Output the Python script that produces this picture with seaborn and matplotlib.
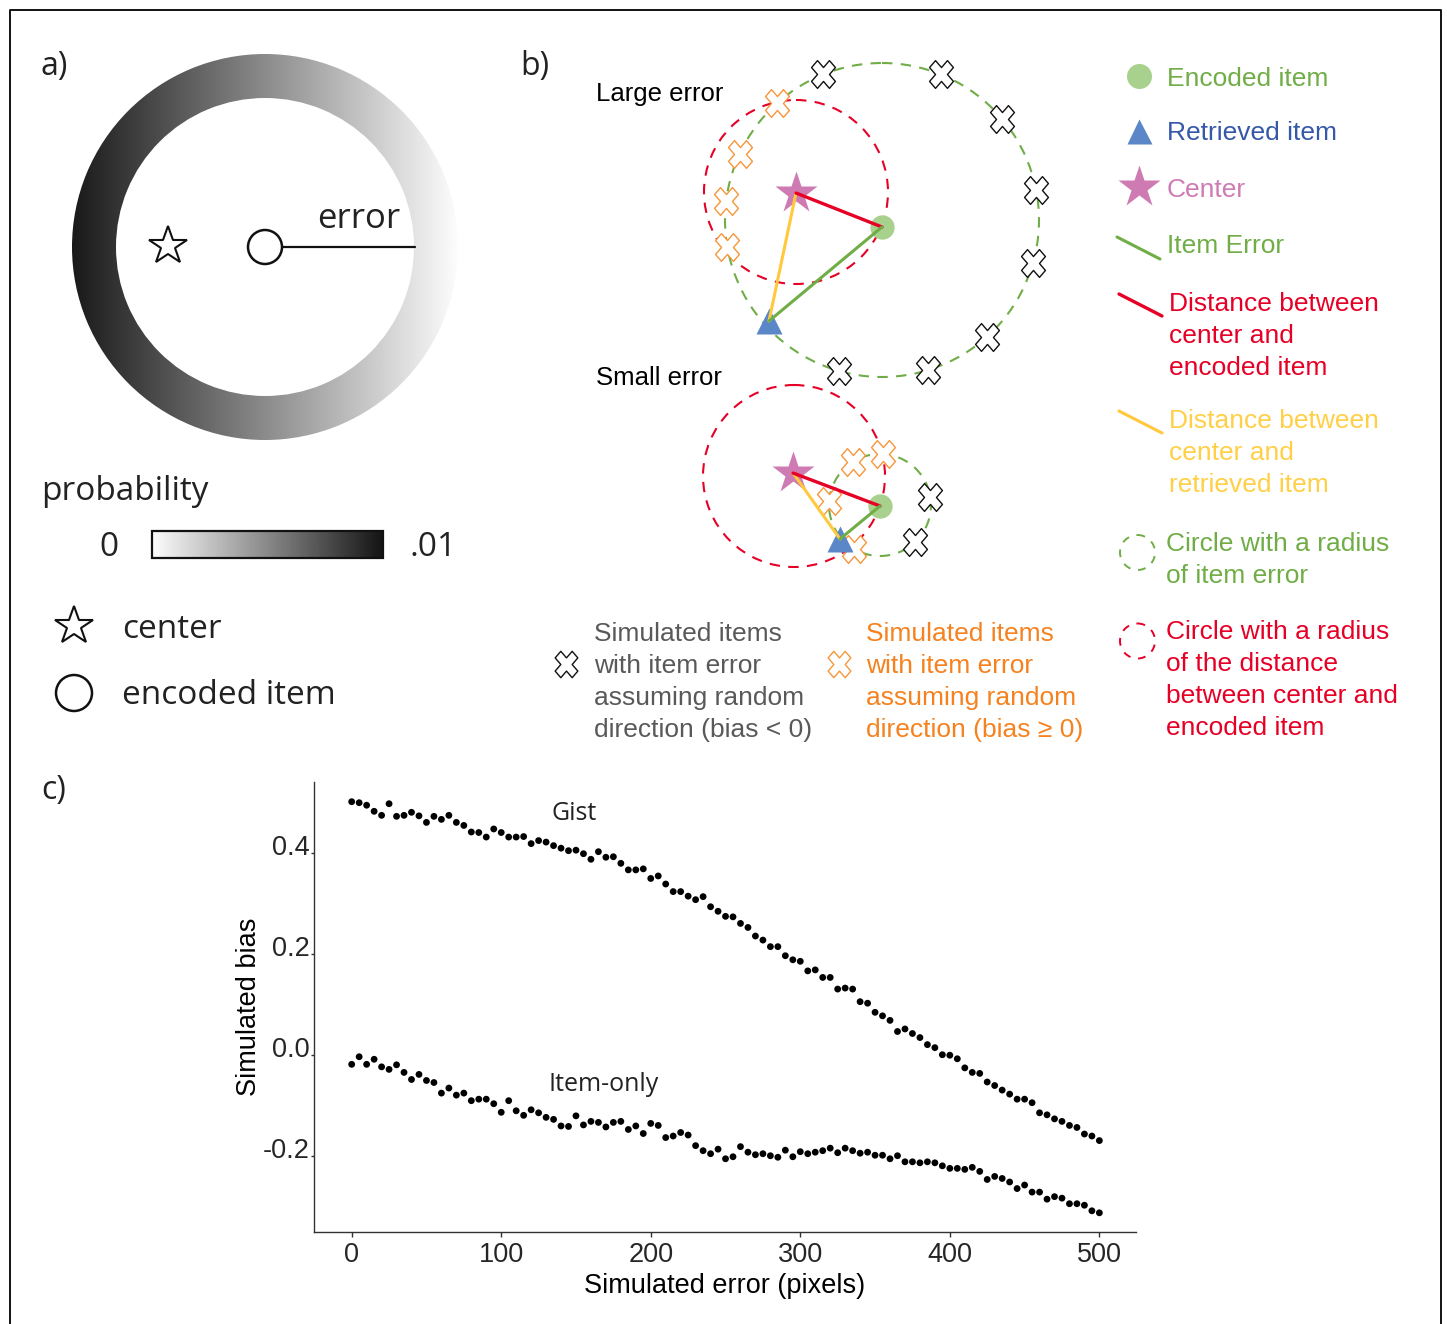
import numpy as np
import pandas as pd
import matplotlib
matplotlib.use('Agg')
import matplotlib.pyplot as plt
import seaborn as sns
from matplotlib.patches import Wedge, Circle, Rectangle
from matplotlib.markers import MarkerStyle
from matplotlib.transforms import Affine2D, ScaledTranslation

# ---- panel c data ----
error_px = list(range(0, 505, 5))
gist_bias = [
    0.502, 0.500, 0.495, 0.483, 0.475, 0.498, 0.473, 0.475, 0.481, 0.474,
    0.461, 0.473, 0.467, 0.475, 0.461, 0.455, 0.442, 0.441, 0.432, 0.448,
    0.441, 0.432, 0.432, 0.433, 0.419, 0.425, 0.422, 0.415, 0.410, 0.405,
    0.406, 0.399, 0.388, 0.403, 0.392, 0.393, 0.380, 0.367, 0.367, 0.369,
    0.350, 0.355, 0.339, 0.324, 0.324, 0.315, 0.308, 0.314, 0.294, 0.285,
    0.275,
    0.274, 0.261, 0.253, 0.236, 0.228, 0.215, 0.215, 0.197, 0.189, 0.186,
    0.167, 0.169, 0.154, 0.154, 0.131, 0.133, 0.131, 0.106, 0.103, 0.085,
    0.078, 0.069, 0.047, 0.052, 0.043, 0.035, 0.021, 0.015, 0.001, 0.000,
    -0.007, -0.025, -0.034, -0.036, -0.053, -0.060, -0.069, -0.077, -0.087, -0.087,
    -0.094, -0.114, -0.118, -0.126, -0.131, -0.139, -0.143, -0.156, -0.160, -0.169]
item_bias = [
    -0.018, -0.003, -0.018, -0.008, -0.023, -0.028, -0.019, -0.034, -0.048, -0.038,
    -0.050, -0.054, -0.075, -0.065, -0.079, -0.075, -0.090, -0.087, -0.087, -0.096,
    -0.113, -0.090, -0.110, -0.119, -0.108, -0.114, -0.123, -0.127, -0.140, -0.141,
    -0.120, -0.138, -0.131, -0.133, -0.142, -0.133, -0.131, -0.147, -0.140, -0.155,
    -0.135, -0.139, -0.163, -0.160, -0.153, -0.158, -0.179, -0.189, -0.195, -0.186,
    -0.205,
    -0.201, -0.181, -0.192, -0.197, -0.195, -0.199, -0.202, -0.188, -0.201, -0.191,
    -0.195, -0.192, -0.189, -0.184, -0.193, -0.184, -0.189, -0.194, -0.192, -0.198,
    -0.198, -0.205, -0.199, -0.211, -0.211, -0.213, -0.211, -0.213, -0.219, -0.224,
    -0.224, -0.226, -0.222, -0.230, -0.246, -0.240, -0.244, -0.251, -0.264, -0.257,
    -0.271, -0.271, -0.285, -0.280, -0.283, -0.294, -0.294, -0.297, -0.308, -0.312]
model_names = ['Gist', 'Item-only']
x_ticks = [0, 100, 200, 300, 400, 500]
y_ticks = [-0.2, 0.0, 0.2, 0.4]
y_ticklabels = ['-0.2', '0.0', '0.2', '0.4']

# ---- schematic (panel b): angles of simulated items on the item-error circle ----
large_black_deg = [112, 68, 40, 11, -16, -48, -73, -106]
large_orange_deg = [132, 155, 173, 190]
small_black_deg = [9, -46]
small_orange_deg = [122, 87, 176, 239]

GREEN = '#70AD47'
GREEN_FILL = '#A9D18E'
BLUE = '#3558A8'
BLUE_FILL = '#5B87C9'
PINK = '#CF7BB3'
RED = '#E60026'
YELLOW = '#FFC83D'
YELLOW_TXT = '#FFCF45'
ORANGE = '#F5821F'
ORANGE_X = '#F7963A'
GRAY_TXT = '#595959'

sns.set_theme(style='white')
plt.rcParams['font.family'] = ['Liberation Sans', 'DejaVu Sans']
MYR = ['Open Sans', 'DejaVu Sans']
TY = 3  # small downward nudge for centred text

fig = plt.figure(figsize=(14.47, 13.24), dpi=100)
ax0 = fig.add_axes([0, 0, 1, 1])
ax0.set_zorder(0)

# outer frame (no bottom edge)
ax0.plot([10, 10, 1441, 1441], [1324, 10, 10, 1324], color='black', lw=1.3)

# ---------------- panel a ----------------
ax0.text(41, 63 + TY, 'a)', family=MYR, fontsize=23, va='center', ha='left', color='#222')
grad = np.linspace(0.1, 0.99, 256).reshape(1, -1)
im = ax0.imshow(grad, cmap='gray', vmin=0, vmax=1, extent=[72, 458, 441, 53],
                aspect='auto', interpolation='bilinear', zorder=1)
ring = Wedge((265, 247), 193, 0, 360, width=44, facecolor='none', edgecolor='none')
ax0.add_patch(ring)
im.set_clip_path(ring)
ax0.plot(168, 246, marker='*', ms=29, mfc='white', mec='#111', mew=1.5, zorder=3)
ax0.plot([282, 415], [247, 247], color='#111', lw=1.6, zorder=3)
ax0.add_patch(Circle((265, 247), 17, fc='white', ec='#111', lw=1.8, zorder=4))
ax0.text(359, 216 + TY, 'error', family=MYR, fontsize=25, ha='center', va='center', color='#222')

ax0.text(41, 488 + TY, 'probability', family=MYR, fontsize=24, ha='left', va='center', color='#222')
cb = ax0.imshow(np.linspace(0.99, 0.08, 256).reshape(1, -1), cmap='gray', vmin=0, vmax=1,
                extent=[152, 383, 558, 531], aspect='auto', zorder=1)
ax0.add_patch(Rectangle((152, 531), 231, 27, fill=False, ec='#111', lw=1.6, zorder=2))
ax0.text(109, 545 + TY, '0', family=MYR, fontsize=24, ha='center', va='center', color='#222')
ax0.text(409, 545 + TY, '.01', family=MYR, fontsize=24, ha='left', va='center', color='#222')
ax0.plot(74, 626, marker='*', ms=29, mfc='white', mec='#111', mew=1.5)
ax0.text(122, 626 + TY, 'center', family=MYR, fontsize=24, ha='left', va='center', color='#222')
ax0.add_patch(Circle((74, 693), 18, fc='white', ec='#111', lw=1.8))
ax0.text(122, 692 + TY, 'encoded item', family=MYR, fontsize=24, ha='left', va='center', color='#222')

# ---------------- panel b ----------------
ax0.text(520, 63 + TY, 'b)', family=MYR, fontsize=23, va='center', ha='left', color='#222')
ax0.text(596, 91 + TY, 'Large error', fontsize=18.5, ha='left', va='center', color='black')
ax0.text(596, 375 + TY, 'Small error', fontsize=18.5, ha='left', va='center', color='black')

base_x = MarkerStyle('X')
x_path = base_x.get_path().transformed(base_x.get_transform() + Affine2D().scale(0.86, 1.0))


def draw_case(star, enc, ret, gcen, grad_r, rcen, red_r, black_deg, orange_deg):
    ax0.add_patch(Circle(rcen, red_r, fill=False, ec=RED, lw=1.5, ls=(0, (5, 4)), zorder=2))
    ax0.add_patch(Circle(gcen, grad_r, fill=False, ec=GREEN, lw=1.5, ls=(0, (5, 4)), zorder=2))
    for degs, col in [(black_deg, '#111'), (orange_deg, ORANGE_X)]:
        a = np.deg2rad(degs)
        ax0.plot(gcen[0] + grad_r * np.cos(a), gcen[1] - grad_r * np.sin(a), ls='none',
                 marker=x_path, ms=20, mfc='white', mec=col, mew=1.0, zorder=3)
    ax0.plot(*star, marker='*', ms=32, color=PINK, mec='none', zorder=4)
    ax0.plot(*enc, marker='o', ms=17.5, color=GREEN_FILL, mec='none', zorder=4)
    ax0.plot(*ret, marker='^', ms=18.5, color=BLUE_FILL, mec='none', zorder=4)
    ax0.plot([star[0], ret[0]], [star[1], ret[1]], color=YELLOW, lw=2.2, zorder=5)
    ax0.plot([star[0], enc[0]], [star[1], enc[1]], color=RED, lw=2.4, zorder=5)
    ax0.plot([enc[0], ret[0]], [enc[1], ret[1]], color=GREEN, lw=2.2, zorder=5)


draw_case((796, 193), (882, 227), (769, 321), (882, 220), 157, (796, 192), 92,
          large_black_deg, large_orange_deg)
draw_case((793, 473), (880, 506), (840, 539), (880, 505), 51, (794, 476), 91,
          small_black_deg, small_orange_deg)


def lines_text(x, y0, lines, color, step=32, size=19):
    for i, s in enumerate(lines):
        ax0.text(x, y0 + TY + i * step, s, fontsize=size, ha='left', va='center', color=color)


# legend on the right
ax0.plot(1139, 76, marker='o', ms=18, color=GREEN_FILL, mec='none')
lines_text(1167, 76, ['Encoded item'], GREEN)
ax0.plot(1139, 131, marker='^', ms=18, color=BLUE_FILL, mec='none')
lines_text(1167, 130, ['Retrieved item'], BLUE)
ax0.plot(1139, 187, marker='*', ms=32, color=PINK, mec='none')
lines_text(1167, 187, ['Center'], PINK)
ax0.plot([1117, 1160], [237, 259], color=GREEN, lw=2.2)
lines_text(1167, 243, ['Item Error'], GREEN)
ax0.plot([1119, 1162], [294, 316], color=RED, lw=2.4)
lines_text(1169, 301, ['Distance between', 'center and', 'encoded item'], RED)
ax0.plot([1119, 1162], [411, 433], color=YELLOW, lw=2.2)
lines_text(1169, 418, ['Distance between', 'center and', 'retrieved item'], YELLOW_TXT)
ax0.add_patch(Circle((1137.5, 552.5), 17.5, fill=False, ec=GREEN, lw=1.4, ls=(0, (4, 4))))
lines_text(1166, 541, ['Circle with a radius', 'of item error'], GREEN)
ax0.add_patch(Circle((1137.5, 641), 17.5, fill=False, ec=RED, lw=1.4, ls=(0, (4, 4))))
lines_text(1166, 629, ['Circle with a radius', 'of the distance',
                       'between center and', 'encoded item'], RED)

# simulated items key
ax0.plot(566, 664, marker=x_path, ms=19, mfc='white', mec='#111', mew=1.0)
lines_text(594, 631, ['Simulated items', 'with item error', 'assuming random',
                      'direction (bias < 0)'], GRAY_TXT)
ax0.plot(839, 664, marker=x_path, ms=19, mfc='white', mec=ORANGE_X, mew=1.0)
lines_text(866, 631, ['Simulated items', 'with item error', 'assuming random',
                      'direction (bias \u2265 0)'], ORANGE)

ax0.text(41, 787 + TY, 'c)', family=MYR, fontsize=23, va='center', ha='left', color='#222')

ax0.set_xlim(0, 1447)
ax0.set_ylim(1324, 0)
ax0.axis('off')

# ---------------- panel c ----------------
ax = fig.add_axes([314 / 1447, 1 - 1232 / 1324, (1136 - 314) / 1447, (1232 - 782) / 1324])
ax.set_zorder(1)
ax.patch.set_alpha(0)
df = pd.DataFrame({
    'error': error_px * 2,
    'bias': gist_bias + item_bias,
    'model': [model_names[0]] * len(gist_bias) + [model_names[1]] * len(item_bias),
})
sns.scatterplot(data=df, x='error', y='bias', hue='model', palette=['black', 'black'],
                s=24, edgecolor='none', legend=False, ax=ax)
ax.set_xlim(-25.2, 524.5)
ax.set_ylim(-0.35, 0.541)
ax.set_xticks(x_ticks)
ax.set_xticklabels([str(t) for t in x_ticks])
ax.set_yticks(y_ticks)
ax.set_yticklabels(y_ticklabels)
sns.despine(ax=ax)
for sp in ['left', 'bottom']:
    ax.spines[sp].set_color('#333')
    ax.spines[sp].set_linewidth(1.0)
ax.tick_params(axis='x', length=3.5, width=1, color='#333', labelsize=19.5, pad=4, bottom=True)
ax.tick_params(axis='y', length=2.5, width=1, color='#333', labelsize=19.5, pad=0.5, left=True)
off = ScaledTranslation(0, 0.08, fig.dpi_scale_trans)
for lab in ax.get_yticklabels():
    lab.set_transform(lab.get_transform() + off)
ax.set_xlabel('Simulated error (pixels)', fontsize=19.5, labelpad=3, color='black')
ax.set_ylabel('Simulated bias', fontsize=19.5, labelpad=1, color='black')
ax.text(149, 0.478, 'Gist', family=MYR, fontsize=18, ha='center', va='center', color='#222')
ax.text(168.5, -0.057, 'Item-only', family=MYR, fontsize=18, ha='center', va='center', color='#222')

fig.savefig('out.png', dpi=100, facecolor='white')
